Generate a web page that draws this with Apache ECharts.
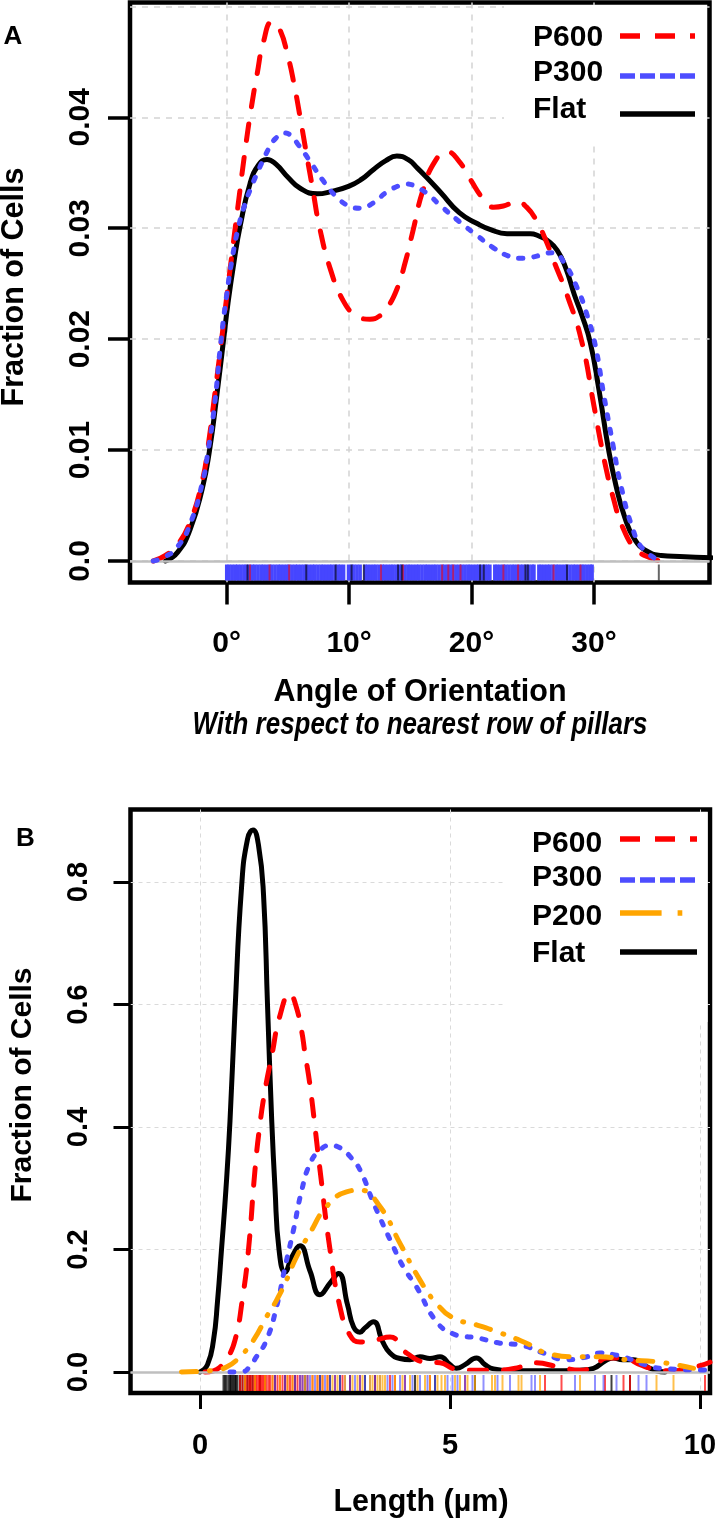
<!DOCTYPE html>
<html><head><meta charset="utf-8">
<script src="https://cdn.jsdelivr.net/npm/echarts@6/dist/echarts.min.js"></script>
<style>html,body{margin:0;padding:0;background:#fff}#c{width:720px;height:1519px}</style>
</head><body><div id="c"></div>
<script>
// ---------------- DATA ----------------
// Panel A: angle of orientation (degrees) vs fraction of cells
const angleNames = ['P600', 'P300', 'Flat'];
const angleP600 = [[-6.0,0],[-5.0,0.0005],[-4.0,0.0015],[-3.0,0.0035],[-2.0,0.0072],[-1.5,0.0105],[-1.0,0.0148],[-0.5,0.0192],[0.0,0.0238],[0.5,0.0283],[1.0,0.0327],[1.5,0.0370],[2.0,0.0408],[2.5,0.0440],[3.0,0.0468],[3.7,0.0486],[4.3,0.0480],[5.0,0.0455],[5.5,0.0430],[6.0,0.0400],[6.5,0.0368],[7.0,0.0337],[7.6,0.0300],[8.5,0.0262],[9.5,0.0235],[10.5,0.0222],[11.7,0.0218],[12.5,0.0221],[13.1,0.0228],[13.9,0.0245],[14.6,0.0270],[15.2,0.0297],[16.0,0.0333],[17.0,0.0360],[18.0,0.0369],[19.0,0.0360],[19.9,0.0344],[21.0,0.0326],[21.8,0.0319],[22.6,0.0320],[23.7,0.0324],[24.5,0.0319],[25.3,0.0307],[26.0,0.0291],[26.7,0.0271],[27.8,0.0240],[29.0,0.0198],[30.0,0.0140],[30.5,0.0110],[31.0,0.0083],[31.5,0.0060],[32.4,0.0029],[33.5,0.0010],[34.8,0.0002],[35.5,0]];
const angleP300 = [[-6.0,0],[-5.0,0.0004],[-4.0,0.0013],[-3.0,0.0033],[-2.0,0.0070],[-1.5,0.0101],[-1.0,0.0140],[-0.5,0.0195],[0.0,0.0240],[0.5,0.0276],[1.0,0.0303],[1.5,0.0322],[2.0,0.0337],[2.5,0.0350],[3.0,0.0362],[3.5,0.0373],[4.0,0.0381],[4.7,0.0386],[5.3,0.0383],[5.8,0.0376],[6.4,0.0367],[7.0,0.0357],[8.0,0.0341],[9.0,0.0328],[10.0,0.0320],[10.9,0.0318],[12.0,0.0323],[13.0,0.0332],[14.0,0.0338],[14.7,0.0340],[15.5,0.0337],[16.4,0.0331],[17.5,0.0320],[19.0,0.0306],[20.5,0.0293],[21.7,0.0283],[23.0,0.0275],[24.0,0.0273],[25.0,0.0274],[26.0,0.0277],[26.7,0.0278],[27.5,0.0270],[28.6,0.0247],[29.4,0.0223],[30.1,0.0195],[30.8,0.0150],[31.6,0.0102],[32.2,0.0068],[33.2,0.0028],[34.0,0.0011],[35.4,0]];
const angleFlat = [[-5.0,0],[-4.0,0.0008],[-3.0,0.0028],[-2.0,0.0065],[-1.4,0.0100],[-0.8,0.0150],[-0.25,0.0200],[0.1,0.0232],[0.6,0.0270],[1.1,0.0302],[1.9,0.0340],[2.6,0.0357],[3.3,0.0362],[4.0,0.0358],[5.0,0.0346],[6.0,0.0336],[7.4,0.0331],[8.5,0.0333],[10.0,0.0338],[11.0,0.0344],[12.0,0.0353],[13.0,0.0361],[13.9,0.0365],[14.8,0.0362],[15.6,0.0354],[16.4,0.0345],[17.5,0.0332],[19.0,0.0314],[20.5,0.0304],[21.5,0.0299],[22.9,0.0295],[24.8,0.0295],[25.5,0.0293],[26.2,0.0289],[27.0,0.0280],[27.7,0.0264],[28.4,0.0240],[29.0,0.0222],[29.7,0.0197],[30.4,0.0155],[31.2,0.0100],[31.8,0.0068],[32.5,0.0040],[33.3,0.0020],[34.3,0.0009],[35.5,0.0005],[37.0,0.0004],[39.6,0.0003]];
// rug (individual cell angles)
const rugAngleP300 = [0.0,0.2,0.45,0.7,0.9,1.15,1.4,1.6,1.85,2.1,2.3,2.55,2.8,3.0,3.25,3.5,3.7,3.95,4.2,4.4,4.65,4.9,5.1,5.35,5.6,5.8,6.05,6.3,6.5,6.75,7.0,7.2,7.45,7.7,7.9,8.15,8.4,8.6,8.85,9.1,9.3,9.55,9.95,10.2,10.4,10.65,10.9,11.3,11.5,11.75,12.0,12.2,12.45,12.7,12.9,13.15,13.4,13.6,13.85,14.1,14.3,14.55,14.8,15.0,15.25,15.5,15.7,15.95,16.2,16.4,16.65,16.9,17.1,17.35,17.6,17.8,18.05,18.3,18.5,18.75,19.0,19.2,19.45,19.7,19.9,20.15,20.4,20.6,20.85,21.1,21.3,21.5,21.9,22.1,22.35,22.6,22.8,23.05,23.3,23.5,23.75,24.0,24.2,24.45,24.7,24.95,25.1,25.5,25.7,25.95,26.2,26.4,26.65,26.9,27.1,27.35,27.6,27.8,28.05,28.3,28.5,28.75,29.0,29.2,29.45,29.7,29.85];
const rugAngleP600 = [1.9,3.5,5.1,12.6,14.4,17.6,18.1,18.5,19.1,22.6,23.8,26.7,28.9];
const rugAngleFlat = [1.7,6.5,8.9,10.2,11.2,14.0,14.3,20.7,21.0,24.4,24.6,27.8,35.3];
const angleTicks = [0, 10, 20, 30];
const angleTickLabels = ['0°', '10°', '20°', '30°'];
const fracTicksA = [0, 0.01, 0.02, 0.03, 0.04];
const fracTickLabelsA = ['0.0', '0.01', '0.02', '0.03', '0.04'];

// Panel B: length (µm) vs fraction of cells
const lengthNames = ['P600', 'P300', 'P200', 'Flat'];
const lengthFlat = [[0.0,0],[0.15,0.012],[0.27,0.052],[0.35,0.115],[0.43,0.20],[0.52,0.30],[0.6,0.41],[0.7,0.59],[0.83,0.79],[0.95,0.87],[1.06,0.885],[1.17,0.86],[1.27,0.78],[1.35,0.60],[1.43,0.42],[1.5,0.30],[1.58,0.20],[1.7,0.163],[1.85,0.19],[2.0,0.206],[2.2,0.165],[2.4,0.126],[2.6,0.145],[2.77,0.161],[2.95,0.11],[3.07,0.074],[3.2,0.065],[3.3,0.072],[3.47,0.082],[3.65,0.05],[3.8,0.031],[4.0,0.022],[4.2,0.02],[4.4,0.025],[4.6,0.022],[4.8,0.025],[5.0,0.012],[5.13,0.006],[5.3,0.012],[5.53,0.023],[5.7,0.012],[5.87,0.005],[6.2,0.002],[7.0,0.002],[7.6,0.003],[7.87,0.006],[8.1,0.018],[8.27,0.023],[8.45,0.02],[8.67,0.02],[8.9,0.01],[9.13,0.002],[9.3,0]];
const lengthP600 = [[0.1,0],[0.27,0.002],[0.4,0.008],[0.53,0.02],[0.7,0.052],[0.85,0.12],[0.97,0.20],[1.1,0.33],[1.2,0.405],[1.3,0.46],[1.43,0.514],[1.6,0.582],[1.8,0.618],[1.9,0.603],[2.03,0.558],[2.1,0.52],[2.17,0.485],[2.23,0.449],[2.3,0.40],[2.4,0.33],[2.6,0.20],[2.8,0.106],[3.0,0.06],[3.2,0.049],[3.5,0.052],[3.8,0.057],[4.13,0.031],[4.53,0.016],[4.8,0.015],[5.1,0.005],[5.5,0.003],[6.0,0.003],[6.4,0.008],[6.67,0.015],[7.2,0.008],[7.6,0.003],[7.9,0.01],[8.13,0.023],[8.5,0.022],[8.8,0.012],[9.07,0.005],[9.5,0.002],[9.9,0.008],[10.2,0.016]];
const lengthP300 = [[0.6,0],[0.87,0.001],[1.0,0.01],[1.13,0.025],[1.33,0.052],[1.53,0.106],[1.7,0.171],[1.87,0.232],[2.03,0.295],[2.2,0.34],[2.4,0.362],[2.6,0.37],[2.8,0.366],[3.0,0.352],[3.2,0.330],[3.47,0.276],[3.87,0.204],[4.07,0.171],[4.33,0.139],[4.73,0.082],[5.07,0.062],[5.3,0.058],[5.53,0.056],[6.0,0.047],[6.4,0.044],[6.87,0.031],[7.33,0.02],[7.7,0.024],[8.0,0.031],[8.3,0.028],[8.53,0.023],[8.9,0.012],[9.2,0.006],[10.2,0.003]];
const lengthP200 = [[-0.37,0],[0.0,0.001],[0.27,0.003],[0.53,0.008],[0.8,0.025],[1.07,0.052],[1.33,0.09],[1.53,0.117],[1.73,0.15],[1.93,0.188],[2.2,0.227],[2.53,0.27],[2.93,0.294],[3.2,0.297],[3.6,0.27],[4.0,0.21],[4.4,0.15],[4.73,0.112],[5.07,0.088],[5.53,0.077],[6.0,0.064],[6.53,0.047],[6.93,0.031],[7.53,0.025],[8.0,0.025],[8.53,0.02],[9.2,0.016],[9.87,0.006]];
const rugLengthFlat = [0.47,0.5,0.53,0.57,0.6,0.62,0.65,0.67,0.7,0.72,0.75,0.8,0.85,0.9,0.95,1.0,1.05,1.1,1.2,1.3,1.5,1.7,1.9,2.1,2.4,2.6,2.8,3.0,3.3,3.5,4.3,4.7,5.5,8.23,8.6];
const rugLengthP600 = [0.8,0.85,0.9,0.93,0.97,1.0,1.03,1.07,1.1,1.12,1.15,1.18,1.2,1.23,1.25,1.28,1.3,1.33,1.37,1.4,1.45,1.5,1.55,1.6,1.65,1.7,1.75,1.8,1.85,1.9,1.95,2.0,2.05,2.15,2.25,2.35,2.45,2.55,2.7,2.85,3.0,3.2,3.5,3.8,3.9,4.1,4.6,5.3,6.9,7.23,8.1,8.47,8.6,10.1];
const rugLengthP300 = [1.5,1.7,1.9,2.0,2.05,2.1,2.15,2.2,2.3,2.4,2.5,2.6,2.7,2.8,2.9,3.0,3.1,3.2,3.3,3.4,3.5,3.6,3.75,3.85,4.0,4.1,4.25,4.4,4.55,4.7,4.95,5.05,5.15,5.3,5.45,5.67,5.95,6.2,6.63,6.7,7.5,7.9,8.07,8.33,8.77,8.93];
const rugLengthP200 = [0.9,1.1,1.3,1.45,1.6,1.75,1.85,2.1,2.25,2.35,2.45,2.55,2.65,2.75,2.9,3.05,3.15,3.25,3.4,3.45,3.55,3.6,3.65,3.7,3.9,4.05,4.2,4.35,4.5,4.6,4.75,4.83,4.9,5.1,5.2,5.35,5.5,5.84,5.9,6.05,6.37,6.43,6.8,7.6,9.13,9.47];
const lengthTicks = [0, 5, 10];
const lengthTickLabels = ['0', '5', '10'];
const fracTicksB = [0, 0.2, 0.4, 0.6, 0.8];
const fracTickLabelsB = ['0.0', '0.2', '0.4', '0.6', '0.8'];

// ---------------- STYLE ----------------
const FONT = '"Liberation Sans", Arial, Helvetica, sans-serif';
const COL = { P600: '#ff0000', P300: '#4d4dff', P200: '#ffa500', Flat: '#000000' };
const CURVE = {
  P600: { type: [17, 17], cap: 'round' },
  P300: { type: [4, 11], cap: 'round' },
  P200: { type: [15, 13, 1, 13], cap: 'round' },
  Flat: { type: 'solid', cap: 'round' }
};
const LEG = {
  P600: [20, 15], P300: [15, 5], P200: [41.6, 16, 4.7, 100], Flat: null
};

function labelFrom(vals, labs) {
  return function (v) {
    for (let i = 0; i < vals.length; i++) if (Math.abs(vals[i] - v) < 1e-9) return labs[i];
    return '';
  };
}

function curve(name, data, gi, z) {
  return {
    name, type: 'line', xAxisIndex: gi, yAxisIndex: gi, data,
    symbol: 'none', showSymbol: false, smooth: 0.5,
    z, silent: true, animation: false,
    lineStyle: { color: COL[name], width: 5, type: CURVE[name].type, cap: CURVE[name].cap, join: 'round' }
  };
}

function rug(values, gi, color, width, opacity, z) {
  return {
    type: 'custom', xAxisIndex: gi, yAxisIndex: gi, z, silent: true, animation: false,
    data: values.map(v => [v, 0]), encode: { x: 0, y: 1 },
    renderItem(params, api) {
      const x = api.coord([api.value(0), 0])[0];
      const cs = params.coordSys;
      const yb = cs.y + cs.height;
      return { type: 'line', shape: { x1: x, y1: yb - 2, x2: x, y2: yb - 18 },
        style: { stroke: color, lineWidth: width, opacity: opacity } };
    }
  };
}

function zeroLine(gi, extra) {
  const data = [{ yAxis: 0, lineStyle: { color: '#bfbfbf', width: 2.5, type: 'solid' } }];
  if (extra) data.push(extra);
  return {
    type: 'line', xAxisIndex: gi, yAxisIndex: gi, data: [], z: 1, silent: true,
    markLine: { silent: true, symbol: 'none', animation: false, label: { show: false }, data }
  };
}

function legendGraphic(names, textX, textMid, lineY, x1, x2) {
  const els = [];
  names.forEach((n, i) => {
    els.push({ type: 'text', x: textX, y: textMid[i], z: 20,
      style: { text: n, font: 'bold 30px ' + FONT, fill: '#000', textAlign: 'left', textVerticalAlign: 'middle' } });
    els.push({ type: 'line', z: 20,
      shape: { x1: x1, y1: lineY[i], x2: x2, y2: lineY[i] },
      style: { stroke: COL[n], lineWidth: 5.5, lineDash: LEG[n] || null, lineCap: 'butt' } });
  });
  return els;
}

function axis(gi, min, max, ticks, labs, tickLen, tickW, margin, fontSize, split, rotate) {
  return {
    type: 'value', gridIndex: gi, min, max,
    axisLine: { show: false, onZero: false },
    axisTick: { show: true, length: tickLen, customValues: ticks, lineStyle: { color: '#000', width: tickW } },
    axisLabel: { show: true, customValues: ticks, formatter: labelFrom(ticks, labs), margin, rotate: rotate,
      color: '#000', fontSize, fontWeight: 'bold', fontFamily: FONT, showMinLabel: true, showMaxLabel: true },
    splitLine: { show: true, lineStyle: split }
  };
}

const splitA = { color: '#d4d4d4', width: 1.5, type: [6, 6] };
const splitB = { color: '#dadada', width: 1, type: [4, 4] };

const chart = echarts.init(document.getElementById('c'), null, { renderer: 'canvas', width: 720, height: 1519 });

const option = {
  animation: false,
  backgroundColor: '#ffffff',
  grid: [
    { left: 130, top: 2.5, width: 579.5, height: 580, show: true, borderColor: '#000', borderWidth: 4.5, backgroundColor: 'transparent', containLabel: false },
    { left: 130.5, top: 809.5, width: 579.5, height: 583.5, show: true, borderColor: '#000', borderWidth: 4.5, backgroundColor: 'transparent', containLabel: false }
  ],
  xAxis: [
    axis(0, -7.9, 39.44, angleTicks, angleTickLabels, 22, 3.5, 46.5, 30, splitA, 0),
    axis(1, -1.39, 10.2, lengthTicks, lengthTickLabels, 16, 3, 38.5, 29, splitB, 0)
  ],
  yAxis: [
    axis(0, -0.00194, 0.05035, fracTicksA, fracTickLabelsA, 22, 3.5, 34, 30, splitA, 90),
    axis(1, -0.0343, 0.9184, fracTicksB, fracTickLabelsB, 17, 3, 37, 29, splitB, 90)
  ],
  series: [
    zeroLine(0, { yAxis: 0.05, lineStyle: splitA }),
    zeroLine(1, null),
    curve('Flat', angleFlat, 0, 3),
    curve('P600', angleP600, 0, 4),
    curve('P300', angleP300, 0, 5),
    rug(rugAngleP300, 0, '#4646ff', 3.5, 1, 6),
    rug(rugAngleP600, 0, '#ff0000', 2, 0.55, 7),
    rug(rugAngleFlat, 0, '#000000', 2, 0.6, 7),
    curve('Flat', lengthFlat, 1, 3),
    curve('P600', lengthP600, 1, 4),
    curve('P300', lengthP300, 1, 5),
    curve('P200', lengthP200, 1, 6),
    rug(rugLengthFlat, 1, '#000000', 2, 0.75, 7),
    rug(rugLengthP600, 1, '#ff0000', 2, 0.7, 7),
    rug(rugLengthP300, 1, '#4646ff', 2, 0.6, 7),
    rug(rugLengthP200, 1, '#ffa500', 2, 0.7, 7)
  ],
  graphic: { elements: [
    { type: 'rect', z: 10, shape: { x: 504, y: 5, width: 203, height: 136 }, style: { fill: '#fff' } },
    { type: 'rect', z: 10, shape: { x: 504, y: 812, width: 203.5, height: 210 }, style: { fill: '#fff' } },
    ...legendGraphic(angleNames, 533, [38, 73, 110], [36, 76, 114], 620, 695),
    ...legendGraphic(lengthNames, 532, [844, 878, 917, 954], [839, 880, 913, 952], 620, 697),
    { type: 'text', x: 13, y: 37, z: 20, style: { text: 'A', font: 'bold 26px ' + FONT, fill: '#000', textAlign: 'center', textVerticalAlign: 'middle' } },
    { type: 'text', x: 25.5, y: 838.5, z: 20, style: { text: 'B', font: 'bold 26px ' + FONT, fill: '#000', textAlign: 'center', textVerticalAlign: 'middle' } },
    { type: 'text', x: 15, y: 287, rotation: Math.PI / 2, z: 20, style: { text: 'Fraction of Cells', font: 'bold 30.5px ' + FONT, fill: '#000', textAlign: 'center', textVerticalAlign: 'middle' } },
    { type: 'text', x: 23, y: 1085, rotation: Math.PI / 2, z: 20, style: { text: 'Fraction of Cells', font: 'bold 30px ' + FONT, fill: '#000', textAlign: 'center', textVerticalAlign: 'middle' } },
    { type: 'text', x: 420, y: 693, z: 20, style: { text: 'Angle of Orientation', font: 'bold 30.5px ' + FONT, fill: '#000', textAlign: 'center', textVerticalAlign: 'middle' } },
    { type: 'text', x: 420, y: 726, scaleX: 0.85, z: 20, style: { text: 'With respect to nearest row of pillars', font: 'italic bold 30.5px ' + FONT, fill: '#000', textAlign: 'center', textVerticalAlign: 'middle' } },
    { type: 'text', x: 421, y: 1502.5, z: 20, style: { text: 'Length (µm)', font: 'bold 30.5px ' + FONT, fill: '#000', textAlign: 'center', textVerticalAlign: 'middle' } }
  ] }
};
chart.setOption(option);
</script></body></html>
